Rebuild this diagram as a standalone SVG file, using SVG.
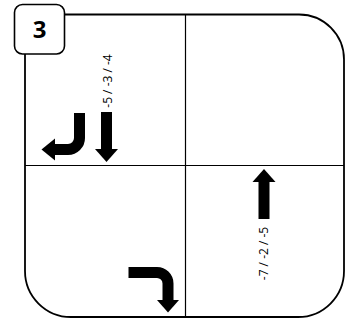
<svg xmlns="http://www.w3.org/2000/svg" width="346" height="320" viewBox="0 0 346 320">
  <style>
    .frame{fill:#fff;stroke:#000;stroke-width:1.8}
    .div{stroke:#000;stroke-width:1.2;fill:none}
    .shaft{fill:none;stroke:#000;stroke-width:11;stroke-linecap:butt}
    .head{fill:#000}
    .lbl{font-family:"Open Sans","Liberation Sans",sans-serif;font-size:12px;fill:#000}
    .num{font-family:"Open Sans","Liberation Sans",sans-serif;font-size:24px;font-weight:bold;fill:#000}
  </style>
  <rect width="346" height="320" fill="#fff"/>
  <g id="frame">
    <path class="frame" d="M25 14.5 H299 A45 45 0 0 1 344 59.5 V271 A46 46 0 0 1 298 317 H71 A46 46 0 0 1 25 271 Z"/>
    <line class="div" x1="185.5" y1="14.5" x2="185.5" y2="317"/>
    <line class="div" x1="25" y1="165.5" x2="344" y2="165.5"/>
  </g>
  <g id="badge">
    <rect x="14.5" y="4.5" width="50" height="49.5" rx="8" fill="#fff" stroke="#000" stroke-width="1.6"/>
    <text class="num" x="39.5" y="37.5" text-anchor="middle">3</text>
  </g>
  <g id="connectors">
    <g id="hook-left">
      <path class="shaft" d="M79.5 113 V138 A11.5 11.5 0 0 1 68 149.5 H54.5"/>
      <polygon class="head" points="55,138.5 55,160.5 41.5,149.5"/>
    </g>
    <g id="down-arrow">
      <path class="shaft" d="M106.5 112 V149.5"/>
      <polygon class="head" points="95,149 118,149 106.5,162"/>
    </g>
    <g id="turn-down">
      <path class="shaft" d="M128.5 272.5 H157 A11 11 0 0 1 168 283.5 V300.5"/>
      <polygon class="head" points="157,300 179,300 168,312.5"/>
    </g>
    <g id="up-arrow">
      <path class="shaft" d="M264 219 V181.5"/>
      <polygon class="head" points="252.5,182 275.5,182 264,169"/>
    </g>
  </g>
  <g id="labels">
    <text class="lbl" transform="translate(112,81) rotate(-90)" text-anchor="middle">-5 / -3 / -4</text>
    <text class="lbl" transform="translate(268,253.5) rotate(-90)" text-anchor="middle">-7 / -2 / -5</text>
  </g>
</svg>
